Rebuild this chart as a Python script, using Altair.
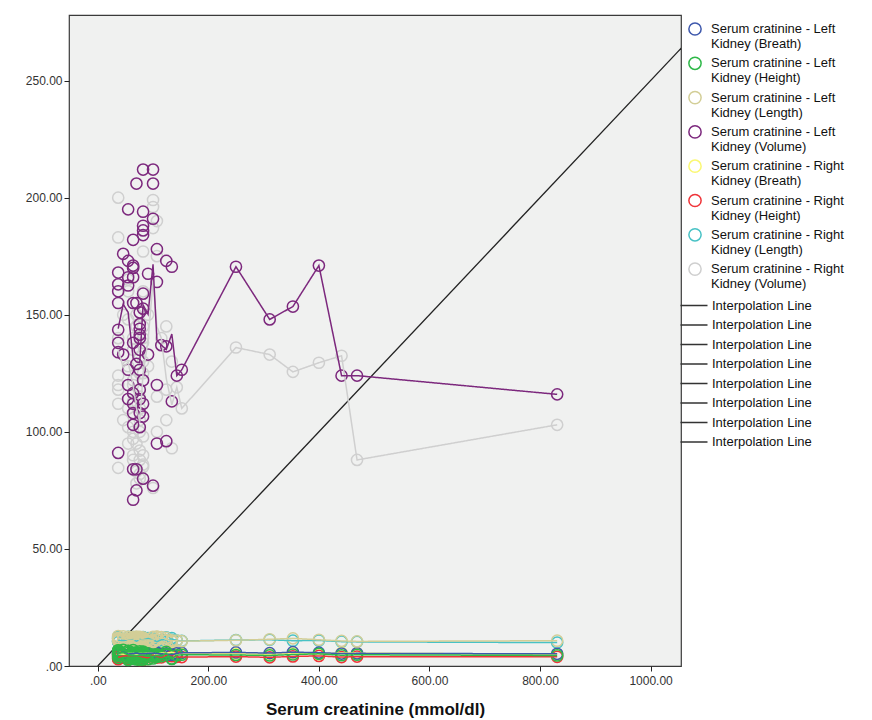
import altair as alt
import pandas as pd

# ---------------- data ----------------
series_names = [
    "Serum cratinine - Left Kidney (Breath)",
    "Serum cratinine - Left Kidney (Height)",
    "Serum cratinine - Left Kidney (Length)",
    "Serum cratinine - Left Kidney (Volume)",
    "Serum cratinine - Right Kidney (Breath)",
    "Serum cratinine - Right Kidney (Height)",
    "Serum cratinine - Right Kidney (Length)",
    "Serum cratinine - Right Kidney (Volume)",
]
series_colors = ["#3E58AC", "#2EB848", "#D3CE97", "#7C287D",
                 "#FBF873", "#EF3338", "#48C2C5", "#CFCFCF"]
line_ids = ["Interpolation Line %d" % (i + 1) for i in range(8)]

creatinine = [
    82, 100, 70, 100, 55, 82, 100, 82, 82, 82,
    64, 107, 46, 55, 64, 64, 124, 134, 37, 55,
    64, 37, 55, 37, 91, 107, 82, 64, 70, 82,
    76, 37, 76, 76, 76, 76, 37, 37, 37, 46,
    64, 76, 91, 70, 115, 124, 55, 76, 82, 76,
    55, 64, 55, 76, 64, 82, 64, 76, 82, 64,
    76, 107, 134, 37, 64, 70, 82, 100, 70, 64,
    107, 124, 143, 152, 250, 311, 353, 400, 441, 469,
    831,
]
left_volume = [
    212, 212, 206, 206, 195, 194, 191, 188, 186, 184,
    182, 178, 176, 173, 171, 170, 173, 170.5, 168, 166,
    166, 163, 162.5, 160, 167.5, 164, 159, 155, 155, 152.6,
    151, 155, 146, 144, 141.5, 140, 143.6, 138, 134, 133,
    138, 135, 133, 129, 137, 136.5, 126.5, 126.5, 122, 118,
    120, 116.5, 114, 114, 112, 112, 108, 108, 106.5, 103,
    102, 120, 113, 91, 84, 84, 80, 77, 75, 71,
    95, 96, 124, 126.5, 170.5, 148, 153.5, 171, 124, 124,
    116,
]
right_volume = [
    177, 199, 150, 187, 160, 145, 196, 130, 138, 125,
    170, 190, 150, 165, 140, 155, 145, 130, 200, 148,
    135, 183, 128, 118, 150, 175, 140, 120, 145, 160,
    125, 124, 118, 132, 110, 100, 120, 140, 112, 105,
    122, 115, 128, 95, 140, 118, 110, 105, 98, 92,
    102, 108, 95, 88, 113, 86, 100, 82, 90, 97,
    80, 100, 93, 84.6, 90, 78, 85, 76, 83, 88,
    115, 105, 119, 110, 136, 133, 125.6, 129.5, 132.5, 88,
    103,
]
left_breath = [
    5.2, 4.8, 5.6, 5.1, 4.9, 5.5, 6.0, 5.3, 4.7, 5.8,
    5.0, 5.4, 6.2, 4.6, 5.1, 5.9, 5.3, 4.8, 5.6, 5.0,
    5.7, 4.9, 5.2, 6.1, 5.4, 4.7, 5.5, 5.0, 5.8, 4.6,
    5.3, 5.9, 5.1, 4.8, 5.6, 6.3, 5.2, 4.9, 5.4, 5.7,
    5.0, 4.7, 5.5, 6.0, 5.2, 4.8, 5.3, 5.9, 4.6, 5.1,
    5.6, 5.0, 5.4, 4.9, 5.8, 5.2, 6.1, 4.7, 5.5, 5.0,
    5.3, 5.7, 4.8, 5.1, 5.6, 4.9, 5.4, 6.0, 5.2, 4.7,
    5.5, 5.3, 5.4, 5.6, 5.8, 5.5, 5.9, 5.7, 5.3, 5.4,
    5.2,
]
left_height = [
    4.6, 3.2, 5.8, 4.1, 6.4, 3.7, 4.9, 5.3, 2.8, 4.4,
    6.8, 3.9, 4.7, 5.6, 3.4, 4.2, 5.1, 3.0, 6.1, 4.5,
    3.6, 5.2, 4.0, 6.6, 2.9, 4.8, 5.5, 3.3, 4.3, 5.9,
    3.8, 4.6, 6.3, 2.7, 5.0, 4.1, 3.5, 5.7, 4.4, 6.9,
    3.1, 4.9, 5.4, 3.6, 4.2, 6.0, 2.6, 4.7, 5.3, 3.9,
    6.5, 4.3, 3.4, 5.1, 4.8, 2.9, 5.6, 4.0, 6.2, 3.7,
    4.5, 5.0, 3.2, 6.7, 4.1, 5.4, 3.8, 4.6, 2.8, 5.2,
    4.4, 4.9, 4.6, 4.8, 4.7, 4.5, 4.9, 5.2, 4.6, 4.8,
    4.5,
]
left_length = [
    11.2, 10.4, 12.1, 10.8, 11.6, 9.9, 12.5, 11.0, 10.6, 11.8,
    10.2, 11.4, 12.7, 10.9, 11.3, 9.8, 12.0, 10.5, 11.7, 10.3,
    12.3, 11.1, 10.0, 11.9, 10.7, 12.6, 11.5, 10.1, 11.2, 12.2,
    10.8, 11.6, 9.7, 12.4, 11.0, 10.4, 11.8, 12.8, 10.6, 11.3,
    12.0, 10.2, 11.5, 10.9, 12.3, 11.1, 9.9, 11.7, 10.5, 12.1,
    11.4, 10.7, 12.5, 10.3, 11.9, 11.2, 10.0, 12.2, 10.8, 11.6,
    10.4, 12.4, 11.0, 11.8, 10.6, 12.6, 11.3, 10.1, 11.5, 12.0,
    11.1, 10.9, 10.8, 10.6, 11.0, 11.4, 11.8, 11.2, 10.7, 10.5,
    10.8,
]
right_breath = [
    5.0, 5.6, 4.7, 5.3, 6.1, 5.1, 4.8, 5.7, 5.4, 4.9,
    5.8, 5.2, 4.6, 6.0, 5.3, 4.8, 5.5, 6.2, 4.9, 5.4,
    5.1, 5.9, 4.7, 5.3, 6.3, 5.0, 4.8, 5.6, 5.2, 6.0,
    4.9, 5.4, 5.8, 4.6, 5.2, 5.7, 6.1, 5.0, 4.8, 5.5,
    5.3, 6.0, 4.7, 5.1, 5.6, 5.4, 4.9, 6.2, 5.2, 4.8,
    5.7, 5.1, 4.6, 5.9, 5.3, 5.0, 5.5, 4.9, 6.1, 5.4,
    5.2, 4.8, 5.6, 5.0, 6.0, 5.3, 4.7, 5.8, 5.1, 5.5,
    5.0, 5.4, 5.1, 5.2, 5.3, 5.0, 5.4, 5.1, 5.6, 5.5,
    5.0,
]
right_height = [
    3.9, 4.5, 3.1, 5.2, 4.0, 3.6, 4.8, 2.7, 4.3, 5.5,
    3.4, 4.1, 5.0, 3.0, 4.6, 3.8, 5.3, 4.2, 2.9, 4.9,
    4.4, 3.2, 5.6, 3.7, 4.0, 4.7, 2.8, 5.1, 3.5, 4.3,
    5.4, 3.9, 3.3, 4.6, 4.1, 2.6, 5.0, 3.8, 4.5, 3.6,
    4.2, 5.2, 3.0, 4.8, 3.7, 4.4, 5.5, 3.3, 4.0, 4.7,
    3.1, 4.9, 4.3, 3.5, 5.1, 4.0, 3.8, 4.6, 2.9, 5.3,
    4.1, 3.6, 4.8, 3.2, 4.5, 5.0, 3.9, 4.2, 5.4, 3.4,
    4.0, 4.3, 3.9, 3.8, 4.0, 3.7, 4.1, 4.3, 3.8, 4.0,
    3.9,
]
right_length = [
    10.6, 11.3, 10.1, 11.8, 10.9, 12.2, 10.4, 11.5, 10.0, 11.1,
    11.7, 10.3, 11.0, 12.4, 10.7, 11.4, 10.2, 11.9, 10.5, 11.2,
    10.8, 12.0, 11.3, 10.4, 11.6, 10.1, 12.3, 10.9, 11.5, 10.6,
    11.8, 10.2, 11.1, 12.1, 10.5, 11.7, 10.3, 11.0, 12.5, 10.8,
    11.4, 10.0, 11.9, 10.7, 11.2, 12.2, 10.4, 11.6, 10.9, 11.3,
    10.2, 11.5, 10.8, 12.0, 10.6, 11.1, 11.8, 10.3, 11.4, 10.7,
    11.9, 10.5, 11.2, 10.9, 12.3, 10.4, 11.6, 11.0, 10.1, 11.7,
    10.6, 11.0, 10.9, 10.7, 11.1, 11.2, 10.8, 10.9, 10.4, 10.3,
    10.0,
]
series_values = [left_breath, left_height, left_length, left_volume,
                 right_breath, right_height, right_length, right_volume]

# reference diagonal
ref_x = [0, 1060]
ref_y = [0, 265]

x_ticks = [0, 200, 400, 600, 800, 1000]
y_ticks = [0, 50, 100, 150, 200, 250]

# drawing order: grey first, purple last
draw_order = [7, 6, 5, 4, 0, 2, 1, 3]

rows = []
for k, idx in enumerate(draw_order):
    for xv, yv in zip(creatinine, series_values[idx]):
        rows.append({"x": xv, "v": yv, "series": series_names[idx],
                     "line": line_ids[idx], "ord": k})
df = pd.DataFrame(rows)
ref_df = pd.DataFrame({"x": ref_x, "v": ref_y})

# ---------------- chart ----------------
FONT = "Liberation Sans"
x_scale = alt.Scale(domain=[-52, 1055], nice=False, zero=False)
y_scale = alt.Scale(domain=[0, 278], nice=False)

x_axis = alt.Axis(values=x_ticks, grid=False, domain=False,
                  labelExpr="datum.value == 0 ? '.00' : format(datum.value, '.2f')",
                  title="Serum creatinine (mmol/dl)", titleFont=FONT,
                  titleFontSize=17, titleFontWeight="bold", titleColor="#111",
                  titlePadding=15, labelFont=FONT, labelFontSize=12,
                  labelColor="#333", tickColor="#222", tickSize=5, labelPadding=4)
y_axis = alt.Axis(values=y_ticks, grid=False, domain=False, title=None,
                  labelExpr="datum.value == 0 ? '.00' : format(datum.value, '.2f')",
                  labelFont=FONT, labelFontSize=12, labelColor="#333",
                  tickColor="#222", tickSize=5, labelPadding=2)

color_scale = alt.Scale(domain=series_names, range=series_colors)

points = alt.Chart(df).mark_point(filled=False, size=125, strokeWidth=1.5,
                                  opacity=1).encode(
    x=alt.X("x:Q", scale=x_scale, axis=x_axis),
    y=alt.Y("v:Q", scale=y_scale, axis=y_axis),
    color=alt.Color("series:N", scale=color_scale, sort=series_names,
                    legend=alt.Legend(
                        title=None, orient="none", legendX=619, legendY=7,
                        symbolType="circle", symbolSize=150,
                        symbolStrokeWidth=1.5, symbolFillColor="transparent",
                        labelFont=FONT, labelFontSize=13, labelColor="#111",
                        labelLimit=220, labelOffset=9, rowPadding=2.3,
                        padding=0,
                        labelExpr="[slice(datum.label, 0, indexof(datum.label, ' Kidney')), slice(datum.label, indexof(datum.label, ' Kidney') + 1)]")),
    order=alt.Order("ord:Q"),
)

lines = alt.Chart(df).mark_line(strokeWidth=1.5).encode(
    x=alt.X("x:Q", scale=x_scale),
    y=alt.Y("mean(v):Q", scale=y_scale),
    stroke=alt.Stroke("series:N", scale=color_scale, legend=None),
    strokeDash=alt.StrokeDash("line:N",
                              scale=alt.Scale(domain=line_ids, range=[[1, 0]] * 8),
                              legend=alt.Legend(
                                  title=None, orient="none", legendX=618.5, legendY=284,
                                  symbolType="M-13.5,0H13.5", symbolSize=4,
                                  symbolStrokeColor="#333", symbolStrokeWidth=1.5,
                                  labelFont=FONT, labelFontSize=13, labelColor="#111",
                                  labelOffset=11.5, rowPadding=5.5, padding=0,
                                  labelExpr="'Interpolation Line'")),
)

ref = alt.Chart(ref_df).mark_line(color="#222", strokeWidth=1.3, clip=True).encode(
    x=alt.X("x:Q", scale=x_scale),
    y=alt.Y("v:Q", scale=y_scale),
)

chart = alt.layer(ref, points, lines).properties(
    width=612, height=651,
    autosize=alt.AutoSizeParams(type="none"),
    padding={"left": 69, "top": 15, "right": 191, "bottom": 54},
    background="white",
).configure_view(
    fill="#F0F1F0", stroke="#3a3a3a", strokeWidth=1.2
)

chart.save("out.html", embed_options={"renderer": "svg", "actions": False})
